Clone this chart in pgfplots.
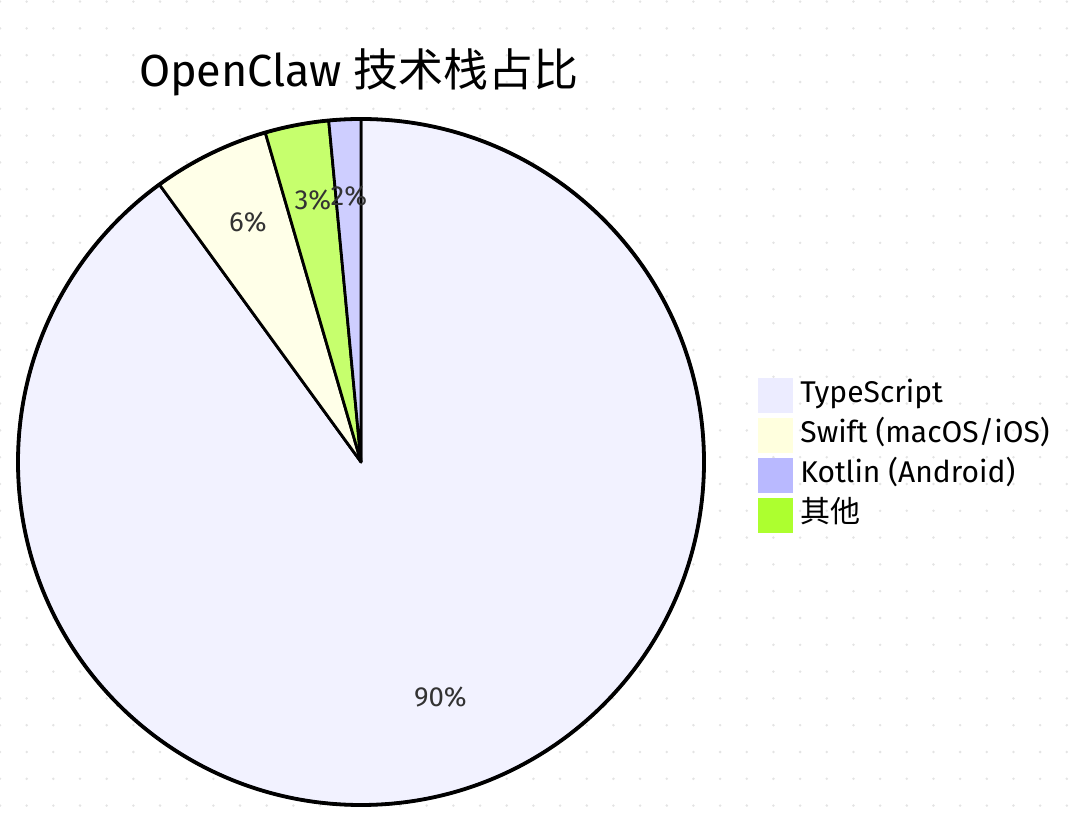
\documentclass[border=0pt]{standalone}
\usepackage{pgfplots}
\pgfplotsset{compat=1.18}
\usepackage{pgfplotstable}
\usepackage{fontspec}
\setmainfont{Fira Sans}
\newfontfamily\cjk{Noto Sans CJK SC}
\definecolor{tsF}{HTML}{F2F2FF}
\definecolor{swF}{HTML}{FFFFE8}
\definecolor{otF}{HTML}{C6FF6D}
\definecolor{ktF}{HTML}{CECEFF}
\definecolor{tsL}{HTML}{ECECFF}
\definecolor{swL}{HTML}{FFFFDE}
\definecolor{ktL}{HTML}{B9B9FF}
\definecolor{otL}{HTML}{ADFF2F}
\definecolor{lbl}{HTML}{333333}
\definecolor{dotc}{HTML}{E4E4E4}
% slices in drawing order (sorted by value, clockwise from 12 o'clock)
\pgfplotstableread{
idx value
0 90
1 5.5
2 3
3 1.5
}\slices
\begin{document}
\begin{tikzpicture}
\useasboundingbox (0,0) rectangle (540pt,414.5pt);
\pgfplotstablegetelem{0}{value}\of\slices \let\vA\pgfplotsretval%
\pgfplotstablegetelem{1}{value}\of\slices \let\vB\pgfplotsretval%
\pgfplotstablegetelem{2}{value}\of\slices \let\vC\pgfplotsretval%
\pgfplotstablegetelem{3}{value}\of\slices \let\vD\pgfplotsretval%
\pgfmathsetmacro{\total}{\vA+\vB+\vC+\vD}%
\pgfmathsetmacro{\aA}{90-\vA/\total*360}%
\pgfmathsetmacro{\aB}{\aA-\vB/\total*360}%
\pgfmathsetmacro{\aC}{\aB-\vC/\total*360}%
\pgfmathsetmacro{\aD}{\aC-\vD/\total*360}%
\pgfmathsetmacro{\mA}{(90+\aA)/2}%
\pgfmathsetmacro{\mB}{(\aA+\aB)/2}%
\pgfmathsetmacro{\mC}{(\aB+\aC)/2}%
\pgfmathsetmacro{\mD}{(\aC+\aD)/2}%
\pgfmathtruncatemacro{\pA}{round(\vA/\total*100+0.01)}%
\pgfmathtruncatemacro{\pB}{round(\vB/\total*100+0.01)}%
\pgfmathtruncatemacro{\pC}{round(\vC/\total*100+0.01)}%
\pgfmathtruncatemacro{\pD}{round(\vD/\total*100+0.01)}%
% faint dotted background
\begin{scope}
\clip (0,0) rectangle (540pt,414.5pt);
\foreach \i in {0,...,40} {\foreach \j in {0,...,31} {
  \fill[dotc] (\i*13.335pt, 414.5pt-\j*13.4pt-0.8pt) circle[radius=0.7pt];
}}
\end{scope}
\begin{axis}[
  at={(0,0)}, anchor=south west,
  width=540pt, height=414.5pt, scale only axis,
  xmin=0, xmax=1080, ymin=0, ymax=829,
  hide axis, clip=false,
]
\draw[fill=tsF, line width=1.4pt, line join=round] (axis cs:361,367) -- ++(90:171.5pt) arc[start angle=90, end angle=\aA, radius=171.5pt] -- cycle;
\draw[fill=swF, line width=1.4pt, line join=round] (axis cs:361,367) -- ++(\aA:171.5pt) arc[start angle=\aA, end angle=\aB, radius=171.5pt] -- cycle;
\draw[fill=otF, line width=1.4pt, line join=round] (axis cs:361,367) -- ++(\aB:171.5pt) arc[start angle=\aB, end angle=\aC, radius=171.5pt] -- cycle;
\draw[fill=ktF, line width=1.4pt, line join=round] (axis cs:361,367) -- ++(\aC:171.5pt) arc[start angle=\aC, end angle=\aD, radius=171.5pt] -- cycle;
\draw[line width=1.9pt] (axis cs:361,367) circle[radius=171.5pt];
\path (axis cs:361,367) ++(\mA:128.5pt) node[anchor=base, text=lbl, font=\fontsize{13.8pt}{16pt}\selectfont] {\pA\%};
\path (axis cs:361,367) ++(\mB:128.5pt) node[anchor=base, text=lbl, font=\fontsize{13.8pt}{16pt}\selectfont] {\pB\%};
\path (axis cs:361,367) ++(\mC:128.5pt) node[anchor=base, text=lbl, font=\fontsize{13.8pt}{16pt}\selectfont] {\pC\%};
\path (axis cs:361,367) ++(\mD:128.5pt) node[anchor=base, text=lbl, font=\fontsize{13.8pt}{16pt}\selectfont] {\pD\%};
% title
\node[anchor=base, inner sep=0pt, font=\fontsize{22.5pt}{24pt}\selectfont] at (axis cs:359,742) {OpenClaw {\cjk 技术栈占比}};
% legend
\fill[tsL] (axis cs:758,451) rectangle (axis cs:793,416);
\fill[swL] (axis cs:758,411) rectangle (axis cs:793,376);
\fill[ktL] (axis cs:758,371) rectangle (axis cs:793,336);
\fill[otL] (axis cs:758,331) rectangle (axis cs:793,296);
\node[anchor=base west, inner sep=0pt, font=\fontsize{15pt}{17pt}\selectfont] at (axis cs:800,426) {TypeScript};
\node[anchor=base west, inner sep=0pt, font=\fontsize{15pt}{17pt}\selectfont] at (axis cs:800,386) {Swift (macOS/iOS)};
\node[anchor=base west, inner sep=0pt, font=\fontsize{15pt}{17pt}\selectfont] at (axis cs:800,346) {Kotlin (Android)};
\node[anchor=base west, inner sep=0pt, font=\fontsize{15pt}{17pt}\selectfont] at (axis cs:800,306) {\cjk 其他};
\end{axis}
\end{tikzpicture}
\end{document}
